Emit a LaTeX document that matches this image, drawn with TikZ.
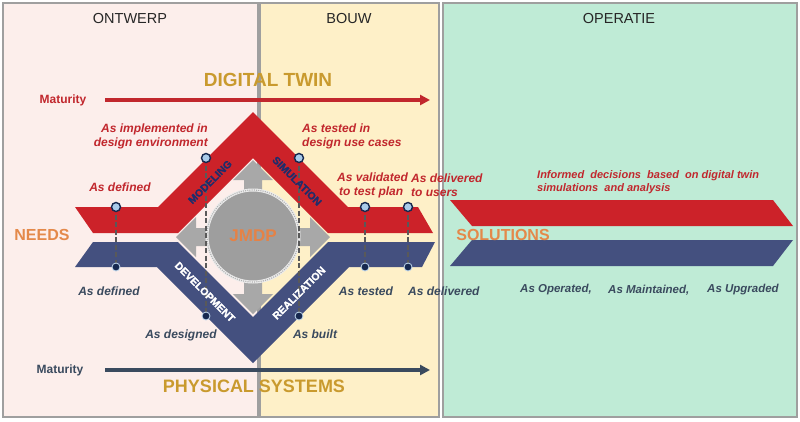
\documentclass[tikz,border=0pt]{standalone}
\usepackage{fontspec}
\setmainfont{Liberation Sans}
\newfontfamily\heavyfont[UprightFont={* Bold}, FakeBold=1.5]{Liberation Sans}
\usetikzlibrary{arrows.meta}
\definecolor{ontwerp}{HTML}{FCEEEB}
\definecolor{bouw}{HTML}{FEF0C8}
\definecolor{operatie}{HTML}{BFEBD6}
\definecolor{twinred}{HTML}{CC2229}
\definecolor{physblue}{HTML}{44507F}
\definecolor{redtxt}{HTML}{C1272D}
\definecolor{bluetxt}{HTML}{3A4A5E}
\definecolor{gold}{HTML}{C99A2E}
\definecolor{needsorange}{HTML}{E4894A}
\definecolor{navy}{HTML}{1F2D6B}
\definecolor{pinfill}{HTML}{A9CBEA}
\definecolor{pindark}{HTML}{16284F}
\definecolor{jgray}{HTML}{9E9E9E}
\definecolor{agray}{HTML}{A8A8A8}
\tikzset{
  every picture/.style={x=1pt,y=-1pt},
  panel/.style={draw=gray!75, line width=1.2pt},
  header/.style={font=\fontsize{14.5}{16}\selectfont, text=black!85},
  title/.style={font=\bfseries\fontsize{19}{20}\selectfont, text=gold},
  sidetitle/.style={font=\bfseries\fontsize{16}{18}\selectfont, text=needsorange},
  redlbl/.style={text=redtxt, font=\bfseries\itshape\fontsize{12}{14}\selectfont, inner sep=0pt},
  bluelbl/.style={text=bluetxt, font=\bfseries\itshape\fontsize{12}{14}\selectfont, inner sep=0pt},
  strip/.style={font=\heavyfont\fontsize{10.5}{10}\selectfont, inner sep=0pt},
  pinred/.style={circle, fill=pinfill, draw=pindark, line width=1.4pt, minimum size=9pt, inner sep=0pt},
  pinblue/.style={circle, fill=pindark, draw=pinfill!70!white, line width=0.8pt, minimum size=8pt, inner sep=0pt},
  stem/.style={draw=black!65, line width=1.3pt, dash pattern=on 5pt off 2.5pt},
  maturity/.style={line width=3.2pt, -{Triangle[length=10pt,width=10pt]}},
  bigarrow/.style={fill=agray, draw=none}
}
\begin{document}
\begin{tikzpicture}
\useasboundingbox (0,0) rectangle (800,421);
\fill[white] (0,0) rectangle (800,421);
\filldraw[panel, fill=ontwerp] (3,3) rectangle (258,417);
\filldraw[panel, fill=bouw] (260,3) rectangle (439,417);
\filldraw[panel, fill=operatie] (443,3) rectangle (797,417);
\node[header] (hont) at (130,19) {ONTWERP};
\node[header] (hbouw) at (349,19) {BOUW};
\node[header] (hop) at (619,19) {OPERATIE};

\node[title] (twin) at (268,80) {DIGITAL TWIN};
\node[text=redtxt, font=\bfseries\fontsize{12}{14}\selectfont] (mat1) at (63,100) {Maturity};
\coordinate (t0) at (105,100);
\coordinate (t1) at (430,100);
\draw[maturity, draw=redtxt, redtxt] (t0) -- (t1);

\node[title, font=\bfseries\fontsize{18}{20}\selectfont] (phys) at (254,386) {PHYSICAL SYSTEMS};
\node[text=bluetxt, font=\bfseries\fontsize{12}{14}\selectfont] (mat2) at (60,370) {Maturity};
\coordinate (p0) at (105,370);
\coordinate (p1) at (430,370);
\draw[maturity, draw=bluetxt, bluetxt] (p0) -- (p1);

\fill[twinred] (75,207) -- (158,207) -- (253,112) -- (348,207) -- (418,207) -- (433,233)
  -- (328,233) -- (253,158) -- (178,233) -- (93,233) -- cycle;
\fill[physblue] (93,242) -- (178,242) -- (253,317) -- (328,242) -- (435,242) -- (422,267)
  -- (349,267) -- (253,363) -- (157,267) -- (75,267) -- cycle;
\fill[twinred] (450,200) -- (773,200) -- (793,226) -- (472,226) -- cycle;
\fill[physblue] (472,240) -- (793,240) -- (773,266) -- (450,266) -- cycle;

\fill[bigarrow] (253,160) -- (273,180) -- (262,180) -- (262,237) -- (244,237) -- (244,180) -- (233,180) -- cycle;
\fill[bigarrow] (253,314) -- (273,294) -- (262,294) -- (262,237) -- (244,237) -- (244,294) -- (233,294) -- cycle;
\fill[bigarrow] (176,237) -- (196,217) -- (196,228) -- (253,228) -- (253,246) -- (196,246) -- (196,257) -- cycle;
\fill[bigarrow] (330,237) -- (310,217) -- (310,228) -- (253,228) -- (253,246) -- (310,246) -- (310,257) -- cycle;
\node[circle, minimum size=92pt, fill=jgray, draw=white!85!gray, line width=3pt] (jmdp) at (253,236) {};
\draw[gray!60, line width=1.2pt, dash pattern=on 1pt off 1.2pt] (jmdp) circle[radius=46pt];
\node[text=needsorange!95!red, font=\bfseries\fontsize{17}{18}\selectfont] at (jmdp) {JMDP};

\node[sidetitle] (needs) at (42,235) {NEEDS};
\node[sidetitle] (sol) at (503,235) {SOLUTIONS};

\coordinate (r1) at (116,207);
\coordinate (r2) at (206,158);
\coordinate (r3) at (299,158);
\coordinate (r4) at (365,207);
\coordinate (r5) at (408,207);
\coordinate (b1) at (116,267);
\coordinate (b2) at (206,316);
\coordinate (b3) at (299,316);
\coordinate (b4) at (365,267);
\coordinate (b5) at (408,267);
\foreach \i in {1,...,5}
  \draw[stem] (r\i) -- (b\i);

\node[strip, text=navy, rotate=45] (smod) at (210,182) {MODELING};
\node[strip, text=navy, rotate=-45] (ssim) at (297,181) {SIMULATION};
\node[strip, text=white, rotate=-45] (sdev) at (205,292) {DEVELOPMENT};
\node[strip, text=white, rotate=45] (sreal) at (299,293) {REALIZATION};

\foreach \i in {1,...,5} {
  \node[pinred] (pr\i) at (r\i) {};
  \node[pinblue] (pb\i) at (b\i) {};
}

\node[redlbl] (ldef) at (120,187) {As defined};
\node[redlbl, align=right, anchor=east] (limp) at (208,136) {As implemented in\\design environment};
\node[redlbl, align=left, anchor=west] (ltest) at (302,136) {As tested in\\design use cases};
\node[redlbl, align=left, anchor=west] (lval) at (337,185) {As validated\\\hspace{2pt}to test plan};
\node[redlbl, align=left, anchor=west] (ldel) at (411,185) {As delivered\\to users};
\node[redlbl, align=left, anchor=west, font=\bfseries\itshape\fontsize{11}{13}\selectfont] (linf) at (537,182)
  {Informed\ \ decisions\ \ based\ \ on digital twin\\simulations\ \ and analysis};

\node[bluelbl] (bdef) at (109,291) {As defined};
\node[bluelbl] (bdes) at (181,335) {As designed};
\node[bluelbl] (bbuilt) at (315,334) {As built};
\node[bluelbl] (btest) at (366,291) {As tested};
\node[bluelbl, anchor=west] (bdel) at (408,291) {As delivered};
\node[bluelbl, anchor=west, font=\bfseries\itshape\fontsize{11.5}{14}\selectfont] (bop) at (520,290) {As Operated,};
\node[bluelbl, anchor=west, font=\bfseries\itshape\fontsize{11.5}{14}\selectfont] (bmain) at (608,290) {As Maintained,};
\node[bluelbl, anchor=west, font=\bfseries\itshape\fontsize{11.5}{14}\selectfont] (bupg) at (707,290) {As Upgraded};
\end{tikzpicture}
\end{document}
